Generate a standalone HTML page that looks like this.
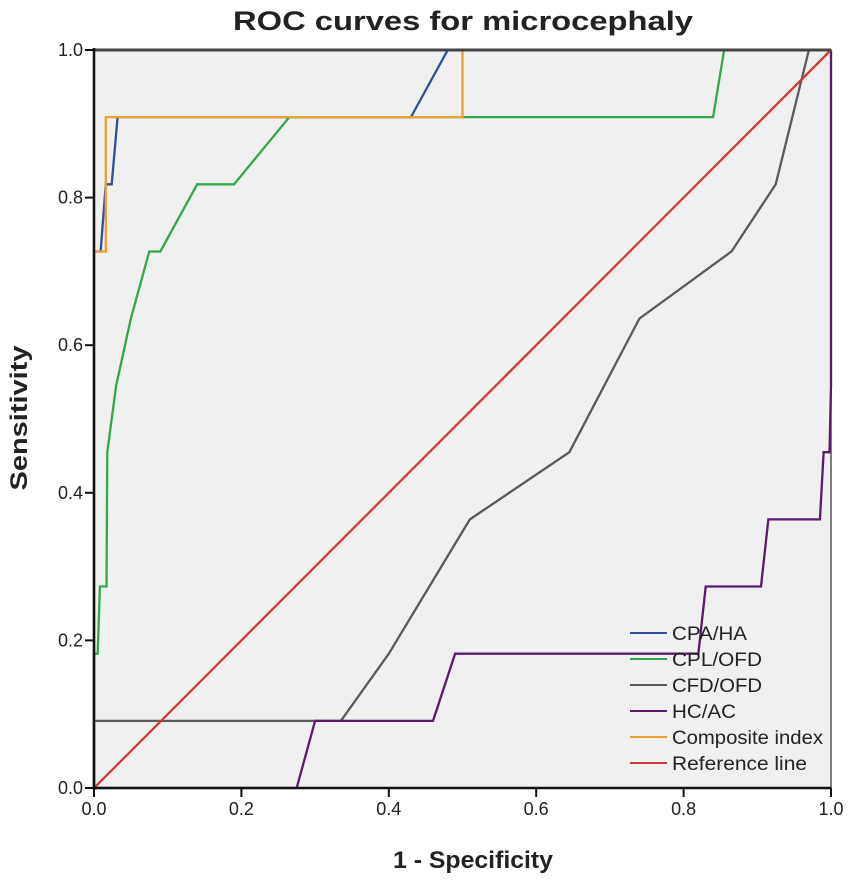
<!DOCTYPE html>
<html><head><meta charset="utf-8"><style>
body{margin:0;background:#fff;}
svg text{font-family:"Liberation Sans",Arial,sans-serif;}
</style></head><body>
<svg id="chart" width="851" height="882" viewBox="0 0 851 882" xmlns="http://www.w3.org/2000/svg">
<text x="463" y="30" text-anchor="middle" font-size="27" font-weight="bold" fill="#222" textLength="460" lengthAdjust="spacingAndGlyphs">ROC curves for microcephaly</text>
<rect x="94" y="50" width="737" height="738" fill="#f0f0f0" stroke="#555" stroke-width="1.5"/>
<g id="series"></g>
<line x1="94" y1="50" x2="831" y2="50" stroke="#444" stroke-width="3"/>
<line x1="94" y1="48" x2="94" y2="790" stroke="#111" stroke-width="2.5"/>
<line x1="93" y1="788" x2="831" y2="788" stroke="#111" stroke-width="2.5"/>
<g id="ticks"></g>
<text x="473" y="868" text-anchor="middle" font-size="24" font-weight="bold" fill="#222" textLength="160" lengthAdjust="spacingAndGlyphs">1 - Specificity</text>
<text transform="translate(27,418) rotate(-90)" text-anchor="middle" font-size="24" font-weight="bold" fill="#222" textLength="145" lengthAdjust="spacingAndGlyphs">Sensitivity</text>
<g id="legend"></g>
</svg>
<script>
const tickValues=[0,0.2,0.4,0.6,0.8,1.0];
const tickLabels=["0.0","0.2","0.4","0.6","0.8","1.0"];
const seriesNames=["CFD/OFD","HC/AC","CPL/OFD","CPA/HA","Composite index","Reference line"];
const seriesColors=["#5a5a5a","#5b1a6b","#2fa84a","#2f4f9a","#e8a030","#d03a3a"];
const cfdX=[0,0,0.335,0.4,0.51,0.645,0.74,0.865,0.925,0.97,1];
const cfdY=[0,0.091,0.091,0.182,0.364,0.455,0.636,0.727,0.818,1,1];
const hcX=[0,0.275,0.3,0.46,0.49,0.82,0.83,0.905,0.915,0.985,0.99,0.998,1,1];
const hcY=[0,0,0.091,0.091,0.182,0.182,0.273,0.273,0.364,0.364,0.455,0.455,0.545,1];
const cplX=[0,0,0.005,0.008,0.017,0.018,0.03,0.05,0.075,0.09,0.14,0.19,0.265,0.84,0.855,1];
const cplY=[0,0.182,0.182,0.273,0.273,0.455,0.545,0.636,0.727,0.727,0.818,0.818,0.909,0.909,1,1];
const cpaX=[0,0,0.009,0.016,0.024,0.032,0.43,0.48,1];
const cpaY=[0,0.727,0.727,0.818,0.818,0.909,0.909,1,1];
const compX=[0,0,0.016,0.016,0.5,0.5,1];
const compY=[0,0.727,0.727,0.909,0.909,1,1];
const refX=[0,1];
const refY=[0,1];
const legendNames=["CPA/HA","CPL/OFD","CFD/OFD","HC/AC","Composite index","Reference line"];
const legendColors=["#2f4f9a","#2fa84a","#5a5a5a","#5b1a6b","#e8a030","#d03a3a"];
const legendWidths=[75,90,90,64,151,135];

const NS="http://www.w3.org/2000/svg";
const X0=94,X1=831,Y0=788,Y1=50;
function sx(v){return X0+v*(X1-X0);}
function sy(v){return Y0-v*(Y0-Y1);}
const allX=[cfdX,hcX,cplX,cpaX,compX,refX], allY=[cfdY,hcY,cplY,cpaY,compY,refY];
const sg=document.getElementById('series');
allX.forEach((xs,i)=>{
  const p=document.createElementNS(NS,'polyline');
  p.setAttribute('points',xs.map((x,j)=>sx(x)+','+sy(allY[i][j])).join(' '));
  p.setAttribute('fill','none');p.setAttribute('stroke',seriesColors[i]);p.setAttribute('stroke-width','2.3');
  
  
  sg.appendChild(p);
});
const tg=document.getElementById('ticks');
tickValues.forEach((v,i)=>{
  const a=document.createElementNS(NS,'line');
  a.setAttribute('x1',sx(v));a.setAttribute('x2',sx(v));a.setAttribute('y1',788);a.setAttribute('y2',797);
  a.setAttribute('stroke','#111');a.setAttribute('stroke-width','2');
  
  
  tg.appendChild(a);
  const t=document.createElementNS(NS,'text');
  t.setAttribute('x',sx(v));t.setAttribute('y',815);t.setAttribute('text-anchor','middle');t.setAttribute('font-size','18');t.setAttribute('fill','#222');
  t.textContent=tickLabels[i];
  
  
  tg.appendChild(t);
  const b=document.createElementNS(NS,'line');
  b.setAttribute('x1',85);b.setAttribute('x2',94);b.setAttribute('y1',sy(v));b.setAttribute('y2',sy(v));
  b.setAttribute('stroke','#111');b.setAttribute('stroke-width','2');
  
  
  tg.appendChild(b);
  const u=document.createElementNS(NS,'text');
  u.setAttribute('x',83);u.setAttribute('y',sy(v)+6);u.setAttribute('text-anchor','end');u.setAttribute('font-size','18');u.setAttribute('fill','#222');
  u.textContent=tickLabels[i];
  
  
  tg.appendChild(u);
});
const lg=document.getElementById('legend');
legendNames.forEach((n,i)=>{
  const y=633+i*26;
  const l=document.createElementNS(NS,'line');
  l.setAttribute('x1',630);l.setAttribute('x2',667);l.setAttribute('y1',y);l.setAttribute('y2',y);
  l.setAttribute('stroke',legendColors[i]);l.setAttribute('stroke-width','2');
  
  
  lg.appendChild(l);
  const t=document.createElementNS(NS,'text');
  t.setAttribute('x',672);t.setAttribute('y',y+7);t.setAttribute('font-size','19');t.setAttribute('fill','#222');
  t.setAttribute('textLength',legendWidths[i]);t.setAttribute('lengthAdjust','spacingAndGlyphs');
  t.textContent=n;
  
  
  lg.appendChild(t);
});
</script>
</body></html>
